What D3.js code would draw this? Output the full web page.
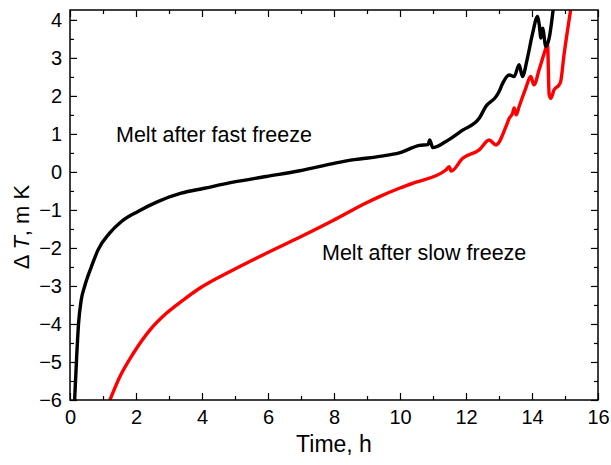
<!DOCTYPE html>
<html><head><meta charset="utf-8">
<script src="https://cdn.jsdelivr.net/npm/d3@7"></script>
<style>body{margin:0;background:#fff}svg{display:block}text{font-family:"Liberation Sans",Arial,sans-serif;fill:#000}</style>
</head><body><svg id="c" width="611" height="465"></svg>
<script>
// Fast-freeze melt curve (black): time (h), ΔT (mK)
const fastT = [0.14,0.2,0.26,0.34,0.44,0.65,0.85,1.2,1.55,2.06,2.66,3.37,4.07,4.94,5.95,6.96,7.97,8.5,8.97,9.38,9.98,10.59,10.85,10.9,10.99,11.39,11.9,12.4,12.6,12.91,13.0,13.11,13.31,13.46,13.61,13.71,13.86,14.01,14.17,14.22,14.27,14.32,14.42,14.52,14.64];
const fastV = [-6,-4.9,-3.98,-3.37,-3.02,-2.49,-2.05,-1.61,-1.31,-1.04,-0.78,-0.56,-0.43,-0.27,-0.12,0.03,0.22,0.31,0.36,0.41,0.5,0.7,0.72,0.84,0.64,0.8,1.1,1.41,1.72,1.98,2.11,2.33,2.55,2.51,2.82,2.51,2.99,3.61,4.09,3.87,3.52,3.78,3.3,3.52,4.26];
// Slow-freeze melt curve (red)
const slowT = [1.21,1.51,1.92,2.42,2.92,3.43,3.93,4.94,5.95,6.96,7.97,8.97,9.38,9.98,10.38,11.39,11.49,11.55,11.9,12.4,12.7,12.91,13.21,13.31,13.41,13.46,13.52,13.61,13.81,13.96,14.06,14.22,14.42,14.47,14.52,14.57,14.67,14.82,14.87,14.97,15.07,15.17];
const slowV = [-6,-5.39,-4.77,-4.16,-3.72,-3.37,-3.06,-2.58,-2.14,-1.72,-1.28,-0.82,-0.65,-0.43,-0.3,0.05,0.14,0.02,0.36,0.58,0.84,0.71,1.19,1.41,1.54,1.68,1.5,1.72,2.2,2.51,2.29,2.7,3.25,3.36,2.03,1.94,2.16,2.29,2.38,3.08,3.69,4.26];
const xTicks = [0,2,4,6,8,10,12,14,16];
const yTicks = [-6,-5,-4,-3,-2,-1,0,1,2,3,4];
const labels = ["Melt after fast freeze","Melt after slow freeze"];

const svg = d3.select("#c");
const L=70,R=598,T=10,B=400;
const x = d3.scaleLinear().domain([0,16]).range([L,R]);
const y = d3.scaleLinear().domain([-6,4.26]).range([B,T]);

const g = svg.append("g");
g.append("defs").append("clipPath").attr("id","clip").append("rect").attr("x",L).attr("y",T).attr("width",R-L).attr("height",B-T);

const line = d3.line().x(d=>x(d[0])).y(d=>y(d[1])).curve(d3.curveMonotoneX);
g.append("path").datum(slowT.map((t,i)=>[t,slowV[i]])).attr("d",line).attr("clip-path","url(#clip)")
 .attr("fill","none").attr("stroke","#ff0000").attr("stroke-width",3.4).attr("stroke-linejoin","round");
g.append("path").datum(fastT.map((t,i)=>[t,fastV[i]])).attr("d",line).attr("clip-path","url(#clip)")
 .attr("fill","none").attr("stroke","#000").attr("stroke-width",3.4).attr("stroke-linejoin","round");

// frame
g.append("rect").attr("x",L).attr("y",T).attr("width",R-L).attr("height",B-T).attr("fill","none").attr("stroke","#000").attr("stroke-width",1.5);

// axes with inward ticks
const xMinor = d3.range(1,16,2), yMinor = d3.range(-5.5,4.1,1);
g.append("g").attr("transform",`translate(0,${B})`).call(d3.axisBottom(x).tickValues(xTicks).tickSize(-7).tickPadding(10));
g.append("g").attr("transform",`translate(0,${T})`).call(d3.axisTop(x).tickValues(xTicks).tickSize(-7).tickFormat(""));
g.append("g").attr("transform",`translate(${L},0)`).call(d3.axisLeft(y).tickValues(yTicks).tickSize(-7).tickPadding(8).tickFormat(d3.format("d")));
g.append("g").attr("transform",`translate(${R},0)`).call(d3.axisRight(y).tickValues(yTicks).tickSize(-7).tickFormat(""));
g.append("g").attr("transform",`translate(0,${B})`).call(d3.axisBottom(x).tickValues(xMinor).tickSize(-4).tickFormat(""));
g.append("g").attr("transform",`translate(0,${T})`).call(d3.axisTop(x).tickValues(xMinor).tickSize(-4).tickFormat(""));
g.append("g").attr("transform",`translate(${L},0)`).call(d3.axisLeft(y).tickValues(yMinor).tickSize(-4).tickFormat(""));
g.append("g").attr("transform",`translate(${R},0)`).call(d3.axisRight(y).tickValues(yMinor).tickSize(-4).tickFormat(""));
g.selectAll(".domain").remove();
g.selectAll(".tick line").attr("stroke","#000").attr("stroke-width",1.2);
g.selectAll(".tick text").attr("font-size",20).attr("font-family","Liberation Sans, Arial, sans-serif").attr("fill","#000");

// labels
g.append("text").attr("x",x(8)).attr("y",452).attr("text-anchor","middle").attr("font-size",23).text("Time, h");
const yt = g.append("text").attr("transform",`translate(29,227) rotate(-90)`).attr("text-anchor","middle").attr("font-size",22);
yt.append("tspan").text("Δ ");
yt.append("tspan").attr("font-style","italic").text("T");
yt.append("tspan").text(", m K");

g.append("text").attr("x",116).attr("y",142).attr("font-size",21.5).text(labels[0]);
g.append("text").attr("x",322).attr("y",260).attr("font-size",21.5).text(labels[1]);
</script></body></html>
